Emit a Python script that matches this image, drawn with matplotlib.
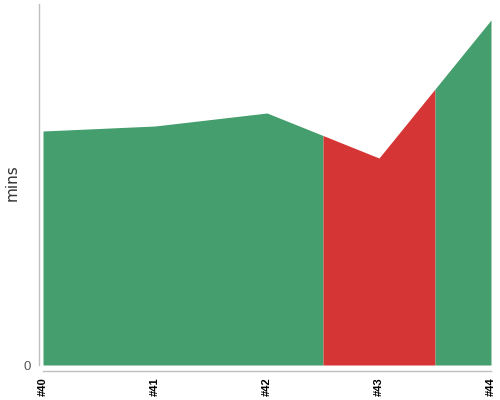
import numpy as np
import matplotlib
matplotlib.use("Agg")
import matplotlib.pyplot as plt

builds = ["#40", "#41", "#42", "#43", "#44"]
durations = [23.4, 23.9, 25.2, 20.7, 34.5]
status = ["success", "success", "success", "failure", "success"]
colors = {"success": "#459e6d", "failure": "#d63535"}

fig = plt.figure(figsize=(5, 4), dpi=100)
ax = fig.add_axes([43/500, 1-365/400, 448/500, 361/400])

# spines first (set_position resets ticks)
for s in ["top", "right"]:
    ax.spines[s].set_visible(False)
ax.spines["left"].set_position(("outward", 3))
ax.spines["bottom"].set_position(("outward", 4))
for s in ["left", "bottom"]:
    ax.spines[s].set_color("#c0c0c0")
    ax.spines[s].set_linewidth(1)

x = np.arange(len(builds), dtype=float)
y = np.array(durations, dtype=float)
n = len(x)

# group consecutive builds with the same status into runs
runs = []
start = 0
for i in range(1, n + 1):
    if i == n or status[i] != status[start]:
        runs.append((start, i - 1, status[start]))
        start = i

for a, b, st in runs:
    x0 = max(x[a] - 0.5, x[0])
    x1 = min(x[b] + 0.5, x[-1])
    xs = np.array(sorted(set([x0, x1] + [v for v in x if x0 <= v <= x1])))
    ys = np.interp(xs, x, y)
    ax.fill_between(xs, 0, ys, color=colors[st], linewidth=0, antialiased=True)

ax.set_xlim(x[0], x[-1])
ax.set_ylim(0, 36.1)
ax.set_xticks(x)
ax.set_xticklabels(builds, fontsize=8, color="black", rotation=90,
                   family="Liberation Sans", fontweight="bold")
ax.set_yticks([0])
ax.set_yticklabels(["0"], fontsize=9.5, color="#555555", family="Liberation Sans")
ax.tick_params(axis="both", length=0)
ax.tick_params(axis="y", pad=6)
ax.tick_params(axis="x", pad=5)
ax.set_ylabel("mins", fontsize=11, color="#333333")
ax.yaxis.set_label_coords(-0.053, 0.504)

fig.savefig("out.png", dpi=100)
